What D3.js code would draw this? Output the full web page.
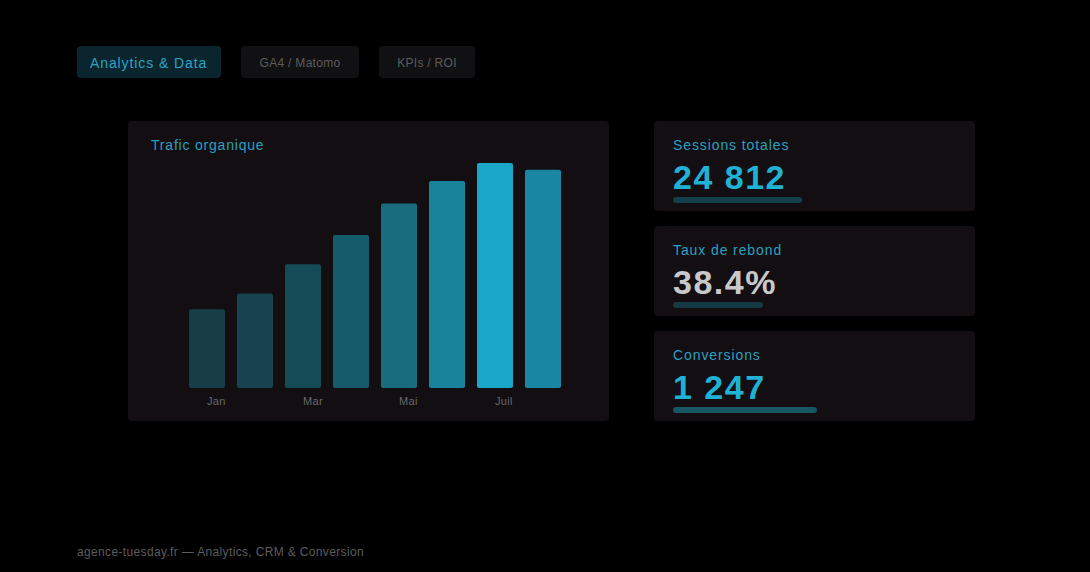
<!DOCTYPE html>
<html>
<head>
<meta charset="utf-8">
<script src="https://cdn.jsdelivr.net/npm/d3@7"></script>
<style>
  html, body { margin: 0; padding: 0; background: #000; }
  svg { display: block; font-family: "Liberation Sans", Arial, sans-serif; }
</style>
</head>
<body>
<div id="chart"></div>
<script>
// data
var tabs = ['Analytics & Data', 'GA4 / Matomo', 'KPIs / ROI']
var months = ['Jan', 'Fév', 'Mar', 'Avr', 'Mai', 'Juin', 'Juil', 'Août']
var traffic = [35, 42, 55, 68, 82, 92, 100, 97]
var monthLabels = ['Jan', 'Mar', 'Mai', 'Juil']
var barColors = ['#173d46', '#16434f', '#144b57', '#165b6b', '#186c7c', '#18839a', '#1ba8c8', '#1987a3']

var kpiLabels = ['Sessions totales', 'Taux de rebond', 'Conversions']
var kpiValues = ['24 812', '38.4%', '1 247']
var kpiProgress = [0.43, 0.30, 0.48]

var width = 1090
var height = 572

var svg = d3
  .select('#chart')
  .append('svg')
  .attr('width', width)
  .attr('height', height)

svg.append('rect').attr('width', width).attr('height', height).attr('fill', '#000')

// tabs
var tabBoxes = [
  { x: 77, w: 144 },
  { x: 241, w: 118 },
  { x: 379, w: 96 }
]
tabs.forEach((t, i) => {
  var b = tabBoxes[i]
  svg.append('rect')
    .attr('x', b.x).attr('y', 46)
    .attr('width', b.w).attr('height', 32)
    .attr('rx', 4)
    .attr('fill', i === 0 ? '#0a252d' : '#111012')
  svg.append('text')
    .attr('x', i === 0 ? b.x + 13 : b.x + b.w / 2)
    .attr('y', i === 0 ? 68 : 67)
    .attr('text-anchor', i === 0 ? 'start' : 'middle')
    .attr('font-size', i === 0 ? 14 : 12)
    .attr('letter-spacing', i === 0 ? 0.9 : 0.3)
    .attr('fill', i === 0 ? '#2aa3c4' : '#5c5c5e')
    .text(t)
})

// chart panel
svg.append('rect')
  .attr('x', 128).attr('y', 121)
  .attr('width', 481).attr('height', 300)
  .attr('rx', 4)
  .attr('fill', '#120e11')

svg.append('text')
  .attr('x', 151).attr('y', 150)
  .attr('font-size', 14)
  .attr('letter-spacing', 0.8)
  .attr('fill', '#2aa0c0')
  .text('Trafic organique')

var x = d3.scaleBand()
  .domain(months)
  .range([183, 567])
  .paddingInner(0.25)
  .paddingOuter(0.125)

var y = d3.scaleLinear()
  .domain([0, 100])
  .range([388, 163])

svg.selectAll('.bar')
  .data(traffic)
  .enter()
  .append('rect')
  .attr('class', 'bar')
  .attr('x', (d, i) => x(months[i]))
  .attr('y', d => y(d))
  .attr('width', x.bandwidth())
  .attr('height', d => y(0) - y(d))
  .attr('rx', 2)
  .attr('fill', (d, i) => barColors[i])

svg.selectAll('.month')
  .data(monthLabels)
  .enter()
  .append('text')
  .attr('class', 'month')
  .attr('x', d => x(d) + x.bandwidth() / 2)
  .attr('y', 405)
  .attr('font-size', 11)
  .attr('letter-spacing', 0.3)
  .attr('fill', '#68686a')
  .text(d => d)

// kpi cards
var cardY = [121, 226, 331]
var progress = d3.scaleLinear().domain([0, 1]).range([0, 300])

kpiLabels.forEach((label, i) => {
  var cy = cardY[i]
  svg.append('rect')
    .attr('x', 654).attr('y', cy)
    .attr('width', 321).attr('height', 90)
    .attr('rx', 4)
    .attr('fill', '#120e11')
  svg.append('text')
    .attr('x', 673).attr('y', cy + 29)
    .attr('font-size', 14)
    .attr('letter-spacing', 0.9)
    .attr('fill', '#2aa0c0')
    .text(label)
  svg.append('text')
    .attr('x', 673).attr('y', cy + 68)
    .attr('font-size', 34)
    .attr('font-weight', 'bold')
    .attr('letter-spacing', 1.5)
    .attr('fill', i === 1 ? '#c8c8ca' : '#1fb2d4')
    .text(kpiValues[i])
  svg.append('rect')
    .attr('x', 673).attr('y', cy + 76)
    .attr('width', progress(kpiProgress[i]))
    .attr('height', 6)
    .attr('rx', 3)
    .attr('fill', i === 2 ? '#175663' : (i === 0 ? '#153f4b' : '#153a44'))
})

// footer
svg.append('text')
  .attr('x', 77).attr('y', 556)
  .attr('font-size', 12)
  .attr('letter-spacing', 0.35)
  .attr('fill', '#5c5c5e')
  .text('agence-tuesday.fr — Analytics, CRM & Conversion')
</script>
</body>
</html>
